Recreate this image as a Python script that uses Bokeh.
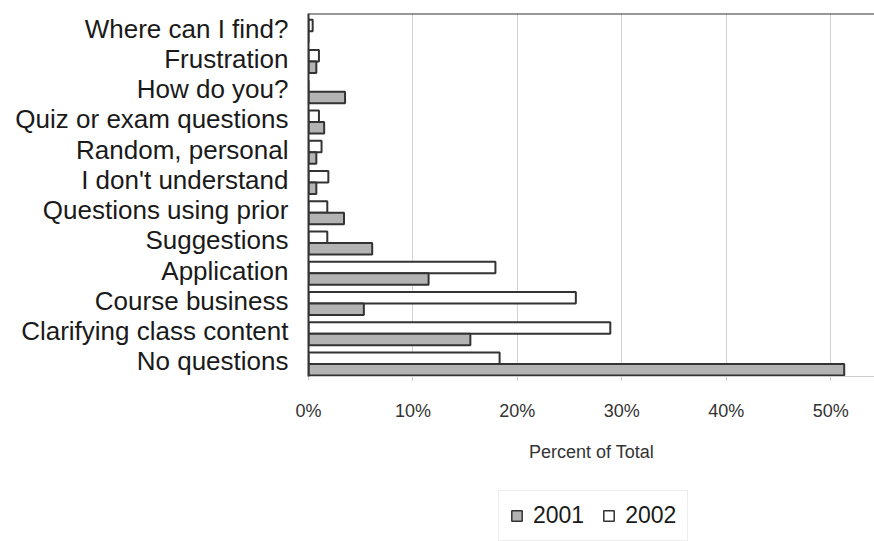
from bokeh.plotting import figure
from bokeh.layouts import column
from bokeh.models import (Range1d, FactorRange, Span, Legend, LegendItem,
                          PrintfTickFormatter, FixedTicker, ColumnDataSource)
from bokeh.transform import dodge
from bokeh.embed import file_html
from bokeh.resources import INLINE

# Question categories, listed bottom to top as drawn on the y axis
categories = [
    "No questions",
    "Clarifying class content",
    "Course business",
    "Application",
    "Suggestions",
    "Questions using prior",
    "I don't understand",
    "Random, personal",
    "Quiz or exam questions",
    "How do you?",
    "Frustration",
    "Where can I find?",
]

# Percent of total questions per category
pct_2001 = [51.3, 15.5, 5.3, 11.5, 6.1, 3.4, 0.75, 0.75, 1.5, 3.5, 0.75, 0.0]
pct_2002 = [18.3, 28.9, 25.6, 17.9, 1.8, 1.8, 1.9, 1.25, 1.0, 0.0, 1.0, 0.4]

series_labels = ["2001", "2002"]
x_ticks = [0, 10, 20, 30, 40, 50]

FONT = "Liberation Sans"
GRAY = "#b3b3b3"
EDGE = "#333333"

source = ColumnDataSource(dict(cat=categories, y2001=pct_2001, y2002=pct_2002))

p = figure(
    width=874, height=490,
    y_range=FactorRange(*categories),
    x_range=Range1d(0, 54.2),
    output_backend="svg", toolbar_location=None,
    min_border_left=308, min_border_right=0,
    min_border_top=13, min_border_bottom=114,
)
p.outline_line_color = None

bar_style = dict(left=0, height=0.38, source=source, line_color=EDGE, line_width=2)
p.hbar(y=dodge("cat", 0.10, range=p.y_range), right="y2002",
       fill_color="white", **bar_style)
p.hbar(y=dodge("cat", -0.28, range=p.y_range), right="y2001",
       fill_color=GRAY, **bar_style)

# Dark line along the top of the plot area
p.add_layout(Span(location=len(categories), dimension="width",
                  line_color=EDGE, line_width=2))

# Grid
p.ygrid.grid_line_color = None
p.xgrid.grid_line_color = "#d2d2d2"
p.xgrid.grid_line_width = 1

# X axis
p.xaxis.ticker = FixedTicker(ticks=x_ticks)
p.xaxis.formatter = PrintfTickFormatter(format="%d%%")
p.xaxis.axis_line_color = "#cccccc"
p.xaxis.major_tick_line_color = "#cccccc"
p.xaxis.major_tick_out = 4
p.xaxis.major_tick_in = 0
p.xaxis.minor_tick_line_color = None
p.xaxis.major_label_standoff = 20
p.xaxis.major_label_text_font = FONT
p.xaxis.major_label_text_font_size = "18px"
p.xaxis.major_label_text_color = "#333333"
p.xaxis.axis_label = "Percent of Total"
p.xaxis.axis_label_text_font = FONT
p.xaxis.axis_label_text_font_size = "18px"
p.xaxis.axis_label_text_font_style = "normal"
p.xaxis.axis_label_text_color = "#333333"
p.xaxis.axis_label_standoff = 18

# Y axis
p.yaxis.axis_line_color = EDGE
p.yaxis.axis_line_width = 2
p.yaxis.major_tick_line_color = None
p.yaxis.major_tick_out = 0
p.yaxis.major_label_standoff = 20
p.yaxis.major_label_text_font = FONT
p.yaxis.major_label_text_font_size = "26px"
p.yaxis.major_label_text_color = "#1a1a1a"

# Legend strip beneath the chart (its frame lines up with the chart's frame).
# The series are repeated here as hidden renderers so the legend can show keys.
leg = figure(
    width=874, height=51, x_range=p.x_range, y_range=FactorRange(*categories),
    output_backend="svg", toolbar_location=None,
    min_border_left=0, min_border_right=0, min_border_top=0, min_border_bottom=0,
)
leg.axis.visible = False
leg.grid.grid_line_color = None
leg.outline_line_color = None

key_style = dict(left=0, height=0.5, source=source, line_color=EDGE,
                 line_width=1.5, visible=False)
k2001 = leg.hbar(y="cat", right="y2001", fill_color=GRAY, **key_style)
k2002 = leg.hbar(y="cat", right="y2002", fill_color="white", **key_style)

legend = Legend(
    items=[LegendItem(label=series_labels[0], renderers=[k2001]),
           LegendItem(label=series_labels[1], renderers=[k2002])],
    orientation="horizontal",
    location=(190, 0),
    label_text_font=FONT,
    label_text_font_size="23px",
    label_text_color="#1a1a1a",
    glyph_width=13, glyph_height=13,
    label_standoff=10, spacing=18, padding=11, margin=0,
    border_line_color="#dddddd",
    inactive_fill_alpha=0.0,
)
leg.add_layout(legend, "center")

layout = column(p, leg, spacing=0)

open("out.html", "w").write(file_html(layout, INLINE))
